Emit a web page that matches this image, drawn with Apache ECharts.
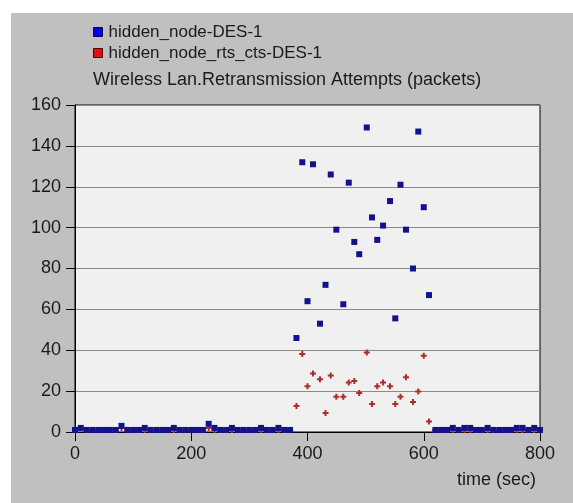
<!DOCTYPE html>
<html>
<head>
<meta charset="utf-8">
<script src="https://cdn.jsdelivr.net/npm/echarts@6/dist/echarts.min.js"></script>
<style>
html,body{margin:0;padding:0;background:#ffffff;}
#chart{width:573px;height:503px;}
</style>
</head>
<body>
<div id="chart"></div>
<script>
// ---- data ----
var titleText = "Wireless Lan.Retransmission Attempts (packets)";
var seriesNames = ["hidden_node-DES-1", "hidden_node_rts_cts-DES-1"];
var xTicks = [0, 200, 400, 600, 800];
var yTicks = [0, 20, 40, 60, 80, 100, 120, 140, 160];

var times = [
  0, 10, 20, 30, 40, 50, 60, 70, 80, 90, 100, 110, 120, 130, 140, 150, 160, 170, 180, 190,
  200, 210, 220, 230, 240, 250, 260, 270, 280, 290, 300, 310, 320, 330, 340, 350, 360, 370,
  381, 391, 400, 409.5, 421.5, 431, 440, 449.6, 461.6, 471, 480.5, 489, 502, 511, 520, 530,
  542, 551, 560, 569.5, 581.5, 590.6, 600, 609,
  620, 630, 640, 650, 660, 670, 680, 690, 700, 710, 720, 730, 740, 750, 760, 770, 780, 790, 800
];
var blueVals = [
  1, 2, 1, 1, 1, 1, 1, 1, 3, 1, 1, 1, 2, 1, 1, 1, 1, 2, 1, 1,
  1, 1, 1, 4, 2, 1, 1, 2, 1, 1, 1, 1, 2, 1, 1, 2, 1, 1,
  46, 132, 64, 131, 53, 72, 126, 99, 62.5, 122, 93, 87, 149, 105, 94, 101,
  113, 55.6, 121, 99, 80, 147, 110, 67,
  1, 1, 1, 2, 1, 2, 2, 1, 1, 2, 1, 1, 1, 1, 2, 2, 1, 2, 1
];
var redVals = [
  1, 2, 1, 1, 1, 1, 1, 1, 2, 1, 1, 1, 1, 1, 1, 1, 1, 1, 1, 1,
  1, 1, 1, 2, 1, 1, 1, 1, 1, 1, 1, 1, 1, 1, 1, 1, 1, 1,
  12.7, 38.2, 22.4, 28.6, 25.8, 9.3, 27.6, 17.2, 17.2, 24.2, 25, 19.1, 38.9, 13.7, 22.4, 24.2,
  22.4, 13.7, 17.2, 26.8, 14.7, 19.8, 37.3, 5.1,
  1, 1, 1, 1, 1, 1, 1, 1, 1, 1, 1, 1, 1, 1, 1, 1, 1, 1, 1
];

function pairs(xs, ys) {
  var out = [];
  for (var i = 0; i < xs.length; i++) out.push([xs[i], ys[i]]);
  return out;
}

var FONT = '"Liberation Sans", Arial, sans-serif';
var TXT = '#1a1a1a';
var plusPath = 'path://M2,0H4V2H6V4H4V6H2V4H0V2H2Z';

var chart = echarts.init(document.getElementById('chart'), null, {renderer: 'canvas'});
chart.setOption({
  backgroundColor: '#ffffff',
  animation: false,
  graphic: [
    {type: 'rect', z: -10, shape: {x: 11, y: 13, width: 562, height: 490}, style: {fill: '#c0c0c0'}},
    {type: 'text', z: 10, x: 536, y: 480, style: {text: 'time (sec)', fill: TXT, font: '18px ' + FONT, align: 'right', verticalAlign: 'middle'}}
  ],
  title: {
    text: titleText,
    left: 88, top: 66,
    textStyle: {fontFamily: FONT, fontSize: 18, fontWeight: 'normal', color: TXT}
  },
  legend: [
    {
      orient: 'vertical', left: 88, top: 18, itemWidth: 9, itemHeight: 9,
      data: [{name: seriesNames[0], icon: 'rect', itemStyle: {color: '#0000e6', borderColor: '#000050', borderWidth: 1}}],
      textStyle: {fontFamily: FONT, fontSize: 17, color: TXT, lineHeight: 18, padding: [0, 0, 0, 1]}
    },
    {
      orient: 'vertical', left: 88, top: 39, itemWidth: 9, itemHeight: 9,
      data: [{name: seriesNames[1], icon: 'rect', itemStyle: {color: '#e01010', borderColor: '#500000', borderWidth: 1}}],
      textStyle: {fontFamily: FONT, fontSize: 17, color: TXT, lineHeight: 18, padding: [0, 0, 0, 1]}
    }
  ],
  grid: {
    left: 75, right: 33, top: 105, bottom: 71,
    show: true, backgroundColor: '#f0f0f0', borderColor: '#000000', borderWidth: 1
  },
  xAxis: {
    type: 'value', min: xTicks[0], max: xTicks[xTicks.length - 1], interval: 200,
    axisLine: {show: true, onZero: false, lineStyle: {color: '#000000', width: 1}},
    axisTick: {show: true, length: 9, lineStyle: {color: '#000000'}},
    axisLabel: {margin: 13, fontFamily: FONT, fontSize: 18, color: TXT},
    splitLine: {show: false}
  },
  yAxis: {
    type: 'value', min: yTicks[0], max: yTicks[yTicks.length - 1], interval: 20,
    axisLine: {show: true, lineStyle: {color: '#000000', width: 1}},
    axisTick: {show: true, length: 9, lineStyle: {color: '#000000'}},
    axisLabel: {margin: 14, fontFamily: FONT, fontSize: 18, color: TXT},
    splitLine: {show: true, lineStyle: {color: '#8a8a8a', width: 1}}
  },
  series: [
    {
      name: seriesNames[1], type: 'scatter', z: 2,
      symbol: plusPath, symbolSize: 6,
      itemStyle: {color: '#b02c2c', opacity: 1},
      data: pairs(times, redVals)
    },
    {
      name: seriesNames[0], type: 'scatter', z: 3,
      symbol: 'rect', symbolSize: 6,
      itemStyle: {color: '#12128c', opacity: 1},
      data: pairs(times, blueVals)
    }
  ]
});
</script>
</body>
</html>
